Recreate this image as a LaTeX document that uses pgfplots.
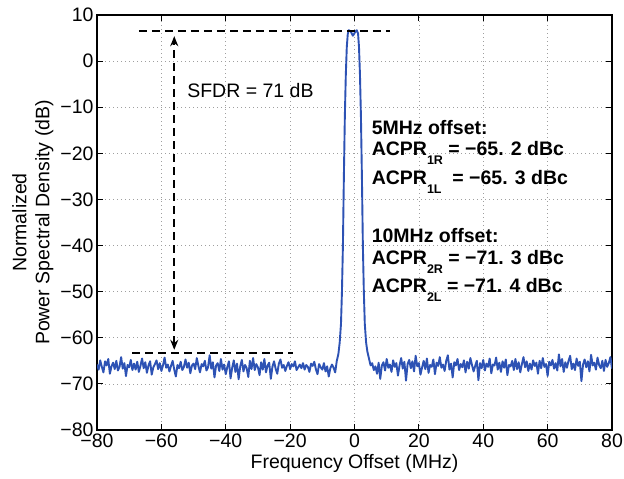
\documentclass[border=0pt]{standalone}
\usepackage{fontspec}
\setmainfont{Liberation Sans}
\usepackage{pgfplots}
\pgfplotsset{compat=1.18}
\usetikzlibrary{calc,arrows.meta}
\definecolor{psd}{RGB}{45,82,180}
\newcommand{\fs}{\fontsize{19.5}{23}\selectfont}
\newcommand{\sub}[1]{\raisebox{-9pt}{\fontsize{12.5}{14}\selectfont #1}}
\begin{document}
\begin{tikzpicture}
\begin{axis}[
 scale only axis, width=515pt, height=415pt,
 xmin=-80,xmax=80,ymin=-80,ymax=10,
 xtick={-80,-60,-40,-20,0,20,40,60,80},
 xticklabels={−80,−60,−40,−20,0,20,40,60,80},
 ytick={-80,-70,-60,-50,-40,-30,-20,-10,0,10},
 yticklabels={−80,−70,−60,−50,−40,−30,−20,−10,0,10},
 tick align=inside, major tick length=6pt,
 grid=major, grid style={dash pattern=on 0.8pt off 3.2pt, gray!75, line width=0.6pt},
 axis line style={line width=1.3pt},
 every tick/.style={black, line width=1pt},
 tick label style={font=\fs},
 label style={font=\fs},
 xlabel={Frequency Offset (MHz)},
 ylabel={Normalized\\Power Spectral Density (dB)},
 ylabel style={align=center},
]
\addplot[psd, line width=1.9pt, line join=round] coordinates {
(-80,-65.8) (-79.5,-66.9) (-79,-64.9) (-78.5,-66.3) (-78,-67.5) (-77.5,-65.1) (-77,-66.0) (-76.5,-64.6) (-76,-67.8) (-75.5,-66.2)
(-75,-65.4) (-74.5,-66.8) (-74,-65.0) (-73.5,-67.1) (-73,-66.3) (-72.5,-64.2) (-72,-66.7) (-71.5,-65.5) (-71,-68.3) (-70.5,-65.9)
(-70,-66.4) (-69.5,-64.8) (-69,-67.0) (-68.5,-65.6) (-68,-66.9) (-67.5,-65.2) (-67,-67.4) (-66.5,-66.1) (-66,-64.5) (-65.5,-66.6)
(-65,-65.3) (-64.5,-67.6) (-64,-66.0) (-63.5,-65.1) (-63,-68.0) (-62.5,-66.4) (-62,-65.7) (-61.5,-64.9) (-61,-66.8) (-60.5,-65.5)
(-60,-67.2) (-59.5,-66.0) (-59,-64.3) (-58.5,-66.5) (-58,-65.8) (-57.5,-67.3) (-57,-66.1) (-56.5,-65.0) (-56,-66.9) (-55.5,-68.4)
(-55,-65.9) (-54.5,-66.6) (-54,-65.2) (-53.5,-67.0) (-53,-66.3) (-52.5,-64.7) (-52,-66.5) (-51.5,-65.4) (-51,-67.7) (-50.5,-66.0)
(-50,-65.6) (-49.5,-66.8) (-49,-64.4) (-48.5,-66.1) (-48,-67.5) (-47.5,-65.7) (-47,-66.2) (-46.5,-65.0) (-46,-67.1) (-45.5,-66.4)
(-45,-63.8) (-44.5,-66.7) (-44,-65.3) (-43.5,-68.6) (-43,-66.0) (-42.5,-65.5) (-42,-67.2) (-41.5,-64.6) (-41,-66.9) (-40.5,-65.8)
(-40,-67.9) (-39.5,-66.3) (-39,-65.1) (-38.5,-68.8) (-38,-66.5) (-37.5,-64.9) (-37,-67.4) (-36.5,-65.6) (-36,-69.0) (-35.5,-66.2)
(-35,-64.8) (-34.5,-67.3) (-34,-65.9) (-33.5,-66.6) (-33,-68.5) (-32.5,-65.0) (-32,-66.8) (-31.5,-64.4) (-31,-67.0) (-30.5,-65.7)
(-30,-66.4) (-29.5,-68.1) (-29,-65.3) (-28.5,-66.9) (-28,-64.6) (-27.5,-67.5) (-27,-66.0) (-26.5,-65.4) (-26,-68.9) (-25.5,-66.3)
(-25,-65.1) (-24.5,-66.7) (-24,-67.8) (-23.5,-65.6) (-23,-64.7) (-22.5,-66.5) (-22,-65.9) (-21.5,-67.2) (-21,-66.1) (-20.5,-65.3)
(-20,-66.8) (-19.5,-65.7) (-19,-66.2) (-18.5,-65.1) (-18,-67.0) (-17.5,-66.4) (-17,-65.8) (-16.5,-66.6) (-16,-65.5) (-15.5,-66.9)
(-15,-65.9) (-14.5,-66.3) (-14,-67.4) (-13.5,-65.6) (-13,-66.1) (-12.5,-65.2) (-12,-66.8) (-11.5,-67.9) (-11,-65.7) (-10.5,-66.4)
(-10,-66.9) (-9.5,-65.5) (-9,-67.3) (-8.5,-66.2) (-8,-68.4) (-7.5,-66.6) (-7,-65.8)
(-6.5,-66.5) (-6,-67.5) (-5.5,-65) (-5,-63.5) (-4.6,-61) (-4.2,-57) (-3.9,-50) (-3.6,-40) (-3.3,-25) (-3.0,-12) (-2.7,-3) (-2.4,3) (-2.1,5.8) (-1.8,6.7) (-1.2,6.5) (-0.5,5.5) (0.2,6.3) (0.7,6.7) (1.1,6) (1.4,3) (1.7,-3) (2.0,-12) (2.3,-25) (2.6,-40) (2.9,-50) (3.2,-57) (3.6,-61) (4.0,-63) (4.5,-64.5) (5,-66) (5.5,-65.5) (6,-67)
(6.5,-66.2) (7,-67.8) (7.5,-65.4) (8,-68.9) (8.5,-66.0) (9,-65.3) (9.5,-67.1) (10,-64.6) (10.5,-66.5) (11,-65.8)
(11.5,-67.4) (12,-64.9) (12.5,-66.3) (13,-65.5) (13.5,-68.2) (14,-66.0) (14.5,-64.4) (15,-66.7) (15.5,-65.2) (16,-69.3)
(16.5,-65.7) (17,-64.8) (17.5,-66.6) (18,-65.1) (18.5,-67.3) (19,-63.9) (19.5,-66.2) (20,-65.5) (20.5,-68.0) (21,-66.4)
(21.5,-65.0) (22,-66.8) (22.5,-64.5) (23,-67.6) (23.5,-65.9) (24,-66.3) (24.5,-64.7) (25,-67.9) (25.5,-65.4) (26,-66.1)
(26.5,-64.2) (27,-66.5) (27.5,-65.8) (28,-67.2) (28.5,-65.0) (29,-63.8) (29.5,-66.9) (30,-65.6) (30.5,-68.6) (31,-65.3)
(31.5,-66.0) (32,-64.6) (32.5,-67.0) (33,-65.7) (33.5,-66.4) (34,-64.9) (34.5,-67.5) (35,-65.2) (35.5,-66.7) (36,-64.4)
(36.5,-65.9) (37,-67.3) (37.5,-66.1) (38,-65.0) (38.5,-69.2) (39,-65.5) (39.5,-66.6) (40,-64.8) (40.5,-67.1) (41,-65.6)
(41.5,-66.3) (42,-64.5) (42.5,-67.7) (43,-65.8) (43.5,-66.0) (44,-64.3) (44.5,-66.9) (45,-65.4) (45.5,-67.4) (46,-65.1)
(46.5,-66.5) (47,-64.7) (47.5,-68.1) (48,-65.9) (48.5,-66.2) (49,-65.0) (49.5,-67.0) (50,-64.6) (50.5,-66.8) (51,-65.3)
(51.5,-67.5) (52,-65.7) (52.5,-64.2) (53,-66.4) (53.5,-65.1) (54,-67.2) (54.5,-65.6) (55,-66.9) (55.5,-64.9) (56,-66.1)
(56.5,-65.4) (57,-67.8) (57.5,-65.0) (58,-66.6) (58.5,-64.4) (59,-66.3) (59.5,-65.7) (60,-68.3) (60.5,-65.2) (61,-66.0)
(61.5,-64.8) (62,-66.7) (62.5,-65.5) (63,-67.1) (63.5,-63.6) (64,-66.2) (64.5,-64.6) (65,-67.4) (65.5,-65.3) (66,-66.5)
(66.5,-65.0) (67,-63.9) (67.5,-66.8) (68,-65.6) (68.5,-67.0) (69,-64.5) (69.5,-66.1) (70,-65.2) (70.5,-69.4) (71,-65.8)
(71.5,-64.7) (72,-66.4) (72.5,-65.1) (73,-67.3) (73.5,-63.7) (74,-66.0) (74.5,-65.4) (75,-66.9) (75.5,-64.3) (76,-65.9)
(76.5,-66.6) (77,-65.0) (77.5,-67.2) (78,-64.8) (78.5,-66.3) (79,-65.5) (79.5,-64.2) (80,-66.7)
};
\addplot[black, line width=2pt, dash pattern=on 8pt off 5pt] coordinates {(-67,6.6) (11,6.6)};
\addplot[black, line width=2pt, dash pattern=on 8pt off 5pt] coordinates {(-69,-63.3) (-19,-63.3)};
\addplot[black, line width=2pt, dash pattern=on 8pt off 5pt, {Stealth[length=10pt,width=8pt]}-{Stealth[length=10pt,width=8pt]}] coordinates {(-56,-62.6) (-56,5.4)};
\node[anchor=base west, inner sep=0pt, font=\fs] at (axis cs:-52,-7.8) {SFDR = 71 dB};
\node[anchor=base west, inner sep=0pt, font=\fs\bfseries] at (axis cs:5.3,-15.9) {5MHz offset:};
\node[anchor=base west, inner sep=0pt, font=\fs\bfseries] at (axis cs:5.3,-20.4) {ACPR\sub{1R} = −65. 2 dBc};
\node[anchor=base west, inner sep=0pt, font=\fs\bfseries] at (axis cs:5.3,-26.7) {ACPR\sub{1L}\ \ = −65. 3 dBc};
\node[anchor=base west, inner sep=0pt, font=\fs\bfseries] at (axis cs:5.3,-39.3) {10MHz offset:};
\node[anchor=base west, inner sep=0pt, font=\fs\bfseries] at (axis cs:5.3,-44.1) {ACPR\sub{2R} = −71. 3 dBc};
\node[anchor=base west, inner sep=0pt, font=\fs\bfseries] at (axis cs:5.3,-50.2) {ACPR\sub{2L} = −71. 4 dBc};
\end{axis}
\pgfresetboundingbox
\path[use as bounding box] ($(current axis.south west)+(-97pt,-48pt)$) rectangle ($(current axis.north east)+(12pt,15pt)$);
\end{tikzpicture}
\end{document}
